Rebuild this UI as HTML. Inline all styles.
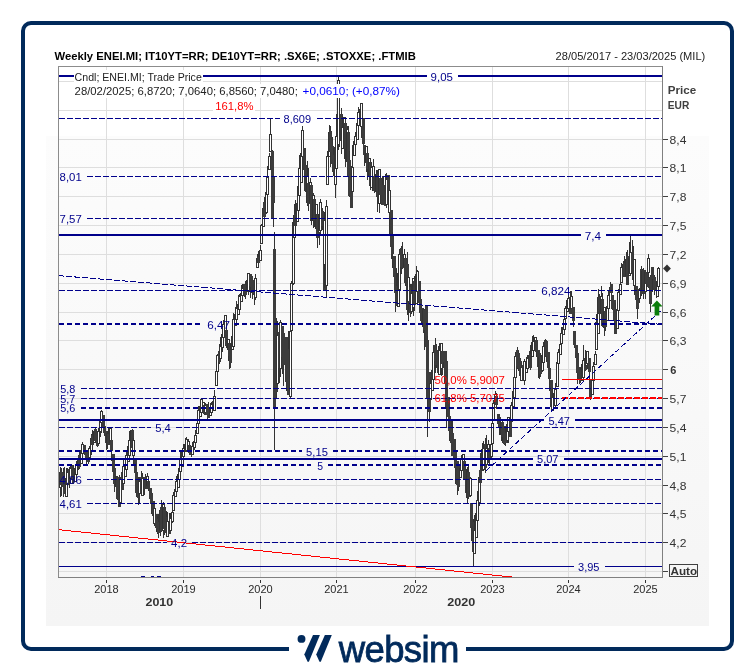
<!DOCTYPE html>
<html><head><meta charset="utf-8">
<style>
html,body{margin:0;padding:0;background:#fff;}
body{width:755px;height:672px;position:relative;overflow:hidden;font-family:"Liberation Sans",Arial,sans-serif;}
.frame{position:absolute;left:21px;top:21px;width:705px;height:622px;border:4px solid #012a5b;border-radius:10px;}
.panel{position:absolute;left:46px;top:136px;width:663px;height:490px;background:linear-gradient(#fcfcfc,#f5f5f5);}
svg{position:absolute;left:0;top:0;}
</style></head><body>
<div class="frame"></div>
<div class="panel"></div>
<svg width="755" height="672" viewBox="0 0 755 672" font-family="Liberation Sans, Arial, sans-serif">
<g shape-rendering="crispEdges">
<rect x="59" y="81" width="603" height="1" fill="#dedede"/>
<rect x="59" y="110" width="603" height="1" fill="#dedede"/>
<rect x="59" y="139" width="603" height="1" fill="#dedede"/>
<rect x="59" y="167" width="603" height="1" fill="#dedede"/>
<rect x="59" y="196" width="603" height="1" fill="#dedede"/>
<rect x="59" y="225" width="603" height="1" fill="#dedede"/>
<rect x="59" y="254" width="603" height="1" fill="#dedede"/>
<rect x="59" y="283" width="603" height="1" fill="#dedede"/>
<rect x="59" y="312" width="603" height="1" fill="#dedede"/>
<rect x="59" y="340" width="603" height="1" fill="#dedede"/>
<rect x="59" y="369" width="603" height="1" fill="#dedede"/>
<rect x="59" y="398" width="603" height="1" fill="#dedede"/>
<rect x="59" y="427" width="603" height="1" fill="#dedede"/>
<rect x="59" y="456" width="603" height="1" fill="#dedede"/>
<rect x="59" y="485" width="603" height="1" fill="#dedede"/>
<rect x="59" y="513" width="603" height="1" fill="#dedede"/>
<rect x="59" y="542" width="603" height="1" fill="#dedede"/>
<rect x="59" y="571" width="603" height="1" fill="#dedede"/>
<rect x="106" y="67" width="1" height="510" fill="#dedede"/>
<rect x="183" y="67" width="1" height="510" fill="#dedede"/>
<rect x="260" y="67" width="1" height="510" fill="#dedede"/>
<rect x="336" y="67" width="1" height="510" fill="#dedede"/>
<rect x="415" y="67" width="1" height="510" fill="#dedede"/>
<rect x="492" y="67" width="1" height="510" fill="#dedede"/>
<rect x="568" y="67" width="1" height="510" fill="#dedede"/>
<rect x="645" y="67" width="1" height="510" fill="#dedede"/>
</g>
<g shape-rendering="crispEdges">
<rect x="60" y="467.1" width="1" height="30.2" fill="#333"/>
<rect x="59.5" y="472.3" width="2" height="15.4" fill="#fff" stroke="#333" stroke-width="1"/>
<rect x="61" y="467.6" width="1" height="28.7" fill="#333"/>
<rect x="60" y="471.8" width="3" height="13.5" fill="#3c3c3c"/>
<rect x="63" y="467.7" width="1" height="29.6" fill="#333"/>
<rect x="62" y="473.0" width="3" height="14.0" fill="#3c3c3c"/>
<rect x="64" y="467.2" width="1" height="26.7" fill="#333"/>
<rect x="63" y="478.1" width="3" height="15.8" fill="#3c3c3c"/>
<rect x="66" y="467.6" width="1" height="28.5" fill="#333"/>
<rect x="65.5" y="478.7" width="2" height="17.4" fill="#fff" stroke="#333" stroke-width="1"/>
<rect x="67" y="467.8" width="1" height="22.8" fill="#333"/>
<rect x="66.5" y="472.7" width="2" height="11.6" fill="#fff" stroke="#333" stroke-width="1"/>
<rect x="69" y="466.9" width="1" height="20.7" fill="#333"/>
<rect x="68" y="468.9" width="3" height="14.0" fill="#3c3c3c"/>
<rect x="70" y="465.0" width="1" height="18.5" fill="#333"/>
<rect x="69.5" y="468.4" width="2" height="10.1" fill="#fff" stroke="#333" stroke-width="1"/>
<rect x="72" y="464.5" width="1" height="19.5" fill="#333"/>
<rect x="71" y="464.5" width="3" height="12.8" fill="#3c3c3c"/>
<rect x="73" y="465.5" width="1" height="18.5" fill="#333"/>
<rect x="72" y="468.8" width="3" height="12.9" fill="#3c3c3c"/>
<rect x="75" y="465.3" width="1" height="15.7" fill="#333"/>
<rect x="74.5" y="468.4" width="2" height="12.6" fill="#fff" stroke="#333" stroke-width="1"/>
<rect x="76" y="461.0" width="1" height="13.7" fill="#333"/>
<rect x="75.5" y="464.9" width="2" height="9.8" fill="#fff" stroke="#333" stroke-width="1"/>
<rect x="78" y="458.4" width="1" height="11.2" fill="#333"/>
<rect x="77.5" y="458.4" width="2" height="9.2" fill="#fff" stroke="#333" stroke-width="1"/>
<rect x="79" y="452.0" width="1" height="16.9" fill="#333"/>
<rect x="78" y="455.4" width="3" height="11.1" fill="#3c3c3c"/>
<rect x="81" y="446.4" width="1" height="17.3" fill="#333"/>
<rect x="80.5" y="450.2" width="2" height="13.5" fill="#fff" stroke="#333" stroke-width="1"/>
<rect x="82" y="442.3" width="1" height="10.8" fill="#333"/>
<rect x="81.5" y="444.3" width="2" height="8.7" fill="#fff" stroke="#333" stroke-width="1"/>
<rect x="84" y="445.0" width="1" height="10.0" fill="#333"/>
<rect x="83" y="445.4" width="3" height="6.8" fill="#3c3c3c"/>
<rect x="85" y="449.9" width="1" height="6.9" fill="#333"/>
<rect x="84" y="449.9" width="3" height="3.5" fill="#3c3c3c"/>
<rect x="86" y="451.4" width="1" height="13.5" fill="#333"/>
<rect x="85" y="451.4" width="3" height="7.9" fill="#3c3c3c"/>
<rect x="88" y="450.5" width="1" height="13.3" fill="#333"/>
<rect x="87" y="450.5" width="3" height="11.5" fill="#3c3c3c"/>
<rect x="89" y="445.7" width="1" height="12.6" fill="#333"/>
<rect x="88.5" y="448.7" width="2" height="8.9" fill="#fff" stroke="#333" stroke-width="1"/>
<rect x="91" y="433.9" width="1" height="21.4" fill="#333"/>
<rect x="90.5" y="438.7" width="2" height="11.4" fill="#fff" stroke="#333" stroke-width="1"/>
<rect x="92" y="430.4" width="1" height="18.0" fill="#333"/>
<rect x="91" y="435.1" width="3" height="9.8" fill="#3c3c3c"/>
<rect x="94" y="428.7" width="1" height="14.7" fill="#333"/>
<rect x="93.5" y="431.4" width="2" height="11.1" fill="#fff" stroke="#333" stroke-width="1"/>
<rect x="95" y="427.1" width="1" height="13.9" fill="#333"/>
<rect x="94" y="429.3" width="3" height="11.3" fill="#3c3c3c"/>
<rect x="97" y="431.0" width="1" height="16.0" fill="#333"/>
<rect x="96" y="434.3" width="3" height="11.7" fill="#3c3c3c"/>
<rect x="98" y="428.3" width="1" height="16.1" fill="#333"/>
<rect x="97.5" y="431.5" width="2" height="11.9" fill="#fff" stroke="#333" stroke-width="1"/>
<rect x="100" y="414.6" width="1" height="22.4" fill="#333"/>
<rect x="99.5" y="420.5" width="2" height="11.3" fill="#fff" stroke="#333" stroke-width="1"/>
<rect x="101" y="410.0" width="1" height="22.6" fill="#333"/>
<rect x="100.5" y="411.2" width="2" height="11.4" fill="#fff" stroke="#333" stroke-width="1"/>
<rect x="103" y="414.9" width="1" height="17.6" fill="#333"/>
<rect x="102" y="414.9" width="3" height="13.3" fill="#3c3c3c"/>
<rect x="104" y="426.2" width="1" height="9.9" fill="#333"/>
<rect x="103" y="426.2" width="3" height="7.2" fill="#3c3c3c"/>
<rect x="106" y="430.6" width="1" height="19.7" fill="#333"/>
<rect x="105" y="430.6" width="3" height="12.2" fill="#3c3c3c"/>
<rect x="107" y="431.1" width="1" height="17.4" fill="#333"/>
<rect x="106.5" y="433.8" width="2" height="9.7" fill="#fff" stroke="#333" stroke-width="1"/>
<rect x="108" y="428.3" width="1" height="16.2" fill="#333"/>
<rect x="107" y="434.2" width="3" height="10.3" fill="#3c3c3c"/>
<rect x="110" y="428.4" width="1" height="19.3" fill="#333"/>
<rect x="109.5" y="428.4" width="2" height="14.5" fill="#fff" stroke="#333" stroke-width="1"/>
<rect x="111" y="439.5" width="1" height="21.5" fill="#333"/>
<rect x="110" y="439.5" width="3" height="11.7" fill="#3c3c3c"/>
<rect x="113" y="454.4" width="1" height="19.6" fill="#333"/>
<rect x="112" y="454.4" width="3" height="17.2" fill="#3c3c3c"/>
<rect x="114" y="468.0" width="1" height="23.6" fill="#333"/>
<rect x="113" y="468.0" width="3" height="16.1" fill="#3c3c3c"/>
<rect x="116" y="476.1" width="1" height="22.2" fill="#333"/>
<rect x="115.5" y="476.6" width="2" height="10.2" fill="#fff" stroke="#333" stroke-width="1"/>
<rect x="117" y="477.0" width="1" height="22.9" fill="#333"/>
<rect x="116" y="477.0" width="3" height="22.4" fill="#3c3c3c"/>
<rect x="119" y="475.1" width="1" height="32.0" fill="#333"/>
<rect x="118" y="488.6" width="3" height="18.5" fill="#3c3c3c"/>
<rect x="120" y="476.9" width="1" height="25.1" fill="#333"/>
<rect x="119.5" y="479.7" width="2" height="22.3" fill="#fff" stroke="#333" stroke-width="1"/>
<rect x="122" y="466.9" width="1" height="23.3" fill="#333"/>
<rect x="121" y="471.9" width="3" height="18.4" fill="#3c3c3c"/>
<rect x="123" y="460.1" width="1" height="23.4" fill="#333"/>
<rect x="122.5" y="466.8" width="2" height="16.7" fill="#fff" stroke="#333" stroke-width="1"/>
<rect x="125" y="458.9" width="1" height="17.2" fill="#333"/>
<rect x="124.5" y="464.0" width="2" height="12.1" fill="#fff" stroke="#333" stroke-width="1"/>
<rect x="126" y="452.1" width="1" height="17.5" fill="#333"/>
<rect x="125.5" y="455.4" width="2" height="14.2" fill="#fff" stroke="#333" stroke-width="1"/>
<rect x="128" y="445.4" width="1" height="16.4" fill="#333"/>
<rect x="127.5" y="446.8" width="2" height="15.0" fill="#fff" stroke="#333" stroke-width="1"/>
<rect x="129" y="430.9" width="1" height="24.9" fill="#333"/>
<rect x="128.5" y="440.8" width="2" height="14.2" fill="#fff" stroke="#333" stroke-width="1"/>
<rect x="131" y="430.2" width="1" height="17.1" fill="#333"/>
<rect x="130.5" y="430.2" width="2" height="16.7" fill="#fff" stroke="#333" stroke-width="1"/>
<rect x="132" y="429.0" width="1" height="24.0" fill="#333"/>
<rect x="131" y="430.4" width="3" height="17.7" fill="#3c3c3c"/>
<rect x="133" y="438.0" width="1" height="27.8" fill="#333"/>
<rect x="132.5" y="440.2" width="2" height="14.8" fill="#fff" stroke="#333" stroke-width="1"/>
<rect x="135" y="460.0" width="1" height="27.0" fill="#333"/>
<rect x="134" y="460.0" width="3" height="13.4" fill="#3c3c3c"/>
<rect x="136" y="472.2" width="1" height="24.3" fill="#333"/>
<rect x="135" y="472.2" width="3" height="20.7" fill="#3c3c3c"/>
<rect x="138" y="477.0" width="1" height="27.9" fill="#333"/>
<rect x="137" y="480.7" width="3" height="17.6" fill="#3c3c3c"/>
<rect x="139" y="476.8" width="1" height="27.3" fill="#333"/>
<rect x="138.5" y="481.0" width="2" height="12.8" fill="#fff" stroke="#333" stroke-width="1"/>
<rect x="141" y="470.7" width="1" height="25.4" fill="#333"/>
<rect x="140" y="477.3" width="3" height="16.4" fill="#3c3c3c"/>
<rect x="142" y="473.2" width="1" height="23.1" fill="#333"/>
<rect x="141.5" y="478.3" width="2" height="16.7" fill="#fff" stroke="#333" stroke-width="1"/>
<rect x="144" y="476.7" width="1" height="18.1" fill="#333"/>
<rect x="143.5" y="477.8" width="2" height="11.0" fill="#fff" stroke="#333" stroke-width="1"/>
<rect x="145" y="473.9" width="1" height="15.5" fill="#333"/>
<rect x="144" y="476.8" width="3" height="12.6" fill="#3c3c3c"/>
<rect x="147" y="473.2" width="1" height="11.9" fill="#333"/>
<rect x="146.5" y="476.8" width="2" height="8.3" fill="#fff" stroke="#333" stroke-width="1"/>
<rect x="148" y="480.5" width="1" height="10.4" fill="#333"/>
<rect x="147" y="480.5" width="3" height="8.6" fill="#3c3c3c"/>
<rect x="150" y="487.6" width="1" height="14.5" fill="#333"/>
<rect x="149" y="487.6" width="3" height="11.3" fill="#3c3c3c"/>
<rect x="151" y="491.6" width="1" height="21.9" fill="#333"/>
<rect x="150" y="493.3" width="3" height="10.4" fill="#3c3c3c"/>
<rect x="153" y="501.2" width="1" height="17.7" fill="#333"/>
<rect x="152" y="501.2" width="3" height="14.8" fill="#3c3c3c"/>
<rect x="154" y="508.7" width="1" height="17.5" fill="#333"/>
<rect x="153.5" y="508.7" width="2" height="14.4" fill="#fff" stroke="#333" stroke-width="1"/>
<rect x="156" y="513.8" width="1" height="18.0" fill="#333"/>
<rect x="155" y="513.8" width="3" height="14.3" fill="#3c3c3c"/>
<rect x="157" y="516.0" width="1" height="18.0" fill="#333"/>
<rect x="156" y="518.8" width="3" height="10.2" fill="#3c3c3c"/>
<rect x="158" y="513.8" width="1" height="24.5" fill="#333"/>
<rect x="157" y="522.1" width="3" height="11.2" fill="#3c3c3c"/>
<rect x="160" y="509.6" width="1" height="26.3" fill="#333"/>
<rect x="159.5" y="510.7" width="2" height="19.5" fill="#fff" stroke="#333" stroke-width="1"/>
<rect x="161" y="500.3" width="1" height="32.1" fill="#333"/>
<rect x="160" y="507.4" width="3" height="23.8" fill="#3c3c3c"/>
<rect x="163" y="501.8" width="1" height="35.7" fill="#333"/>
<rect x="162.5" y="504.7" width="2" height="25.8" fill="#fff" stroke="#333" stroke-width="1"/>
<rect x="164" y="506.6" width="1" height="28.7" fill="#333"/>
<rect x="163" y="506.6" width="3" height="22.1" fill="#3c3c3c"/>
<rect x="166" y="510.5" width="1" height="24.6" fill="#333"/>
<rect x="165" y="516.7" width="3" height="16.2" fill="#3c3c3c"/>
<rect x="167" y="512.0" width="1" height="24.7" fill="#333"/>
<rect x="166.5" y="521.7" width="2" height="15.0" fill="#fff" stroke="#333" stroke-width="1"/>
<rect x="169" y="513.1" width="1" height="21.2" fill="#333"/>
<rect x="168" y="523.2" width="3" height="11.1" fill="#3c3c3c"/>
<rect x="170" y="513.3" width="1" height="18.1" fill="#333"/>
<rect x="169.5" y="518.4" width="2" height="12.3" fill="#fff" stroke="#333" stroke-width="1"/>
<rect x="172" y="505.7" width="1" height="17.7" fill="#333"/>
<rect x="171.5" y="512.5" width="2" height="9.4" fill="#fff" stroke="#333" stroke-width="1"/>
<rect x="173" y="492.2" width="1" height="18.5" fill="#333"/>
<rect x="172.5" y="495.2" width="2" height="15.5" fill="#fff" stroke="#333" stroke-width="1"/>
<rect x="175" y="483.4" width="1" height="13.4" fill="#333"/>
<rect x="174.5" y="489.4" width="2" height="7.4" fill="#fff" stroke="#333" stroke-width="1"/>
<rect x="176" y="475.6" width="1" height="15.8" fill="#333"/>
<rect x="175.5" y="481.7" width="2" height="9.7" fill="#fff" stroke="#333" stroke-width="1"/>
<rect x="178" y="468.0" width="1" height="19.0" fill="#333"/>
<rect x="177.5" y="474.8" width="2" height="12.2" fill="#fff" stroke="#333" stroke-width="1"/>
<rect x="179" y="461.6" width="1" height="17.4" fill="#333"/>
<rect x="178.5" y="469.7" width="2" height="9.3" fill="#fff" stroke="#333" stroke-width="1"/>
<rect x="180" y="451.1" width="1" height="20.5" fill="#333"/>
<rect x="179.5" y="459.6" width="2" height="12.0" fill="#fff" stroke="#333" stroke-width="1"/>
<rect x="182" y="449.5" width="1" height="17.1" fill="#333"/>
<rect x="181.5" y="452.1" width="2" height="14.5" fill="#fff" stroke="#333" stroke-width="1"/>
<rect x="183" y="444.1" width="1" height="17.2" fill="#333"/>
<rect x="182.5" y="448.6" width="2" height="8.0" fill="#fff" stroke="#333" stroke-width="1"/>
<rect x="185" y="437.5" width="1" height="14.2" fill="#333"/>
<rect x="184.5" y="444.0" width="2" height="7.7" fill="#fff" stroke="#333" stroke-width="1"/>
<rect x="186" y="437.1" width="1" height="13.2" fill="#333"/>
<rect x="185.5" y="439.8" width="2" height="10.6" fill="#fff" stroke="#333" stroke-width="1"/>
<rect x="188" y="439.3" width="1" height="12.8" fill="#333"/>
<rect x="187.5" y="441.4" width="2" height="7.8" fill="#fff" stroke="#333" stroke-width="1"/>
<rect x="189" y="444.6" width="1" height="10.7" fill="#333"/>
<rect x="188" y="444.6" width="3" height="8.4" fill="#3c3c3c"/>
<rect x="191" y="447.5" width="1" height="9.2" fill="#333"/>
<rect x="190" y="448.0" width="3" height="7.3" fill="#3c3c3c"/>
<rect x="192" y="441.8" width="1" height="12.1" fill="#333"/>
<rect x="191.5" y="446.5" width="2" height="7.5" fill="#fff" stroke="#333" stroke-width="1"/>
<rect x="194" y="435.5" width="1" height="14.0" fill="#333"/>
<rect x="193.5" y="441.5" width="2" height="6.3" fill="#fff" stroke="#333" stroke-width="1"/>
<rect x="195" y="429.8" width="1" height="14.0" fill="#333"/>
<rect x="194.5" y="435.7" width="2" height="6.9" fill="#fff" stroke="#333" stroke-width="1"/>
<rect x="197" y="419.5" width="1" height="14.0" fill="#333"/>
<rect x="196.5" y="423.7" width="2" height="9.8" fill="#fff" stroke="#333" stroke-width="1"/>
<rect x="198" y="406.4" width="1" height="17.3" fill="#333"/>
<rect x="197.5" y="410.6" width="2" height="13.1" fill="#fff" stroke="#333" stroke-width="1"/>
<rect x="200" y="399.8" width="1" height="16.4" fill="#333"/>
<rect x="199.5" y="406.8" width="2" height="9.5" fill="#fff" stroke="#333" stroke-width="1"/>
<rect x="201" y="398.5" width="1" height="13.6" fill="#333"/>
<rect x="200.5" y="399.9" width="2" height="12.2" fill="#fff" stroke="#333" stroke-width="1"/>
<rect x="203" y="401.5" width="1" height="11.0" fill="#333"/>
<rect x="202.5" y="402.7" width="2" height="9.5" fill="#fff" stroke="#333" stroke-width="1"/>
<rect x="204" y="402.1" width="1" height="12.9" fill="#333"/>
<rect x="203" y="404.9" width="3" height="9.3" fill="#3c3c3c"/>
<rect x="205" y="403.0" width="1" height="11.7" fill="#333"/>
<rect x="204.5" y="405.3" width="2" height="7.6" fill="#fff" stroke="#333" stroke-width="1"/>
<rect x="207" y="403.9" width="1" height="16.0" fill="#333"/>
<rect x="206" y="403.9" width="3" height="11.3" fill="#3c3c3c"/>
<rect x="208" y="402.3" width="1" height="15.6" fill="#333"/>
<rect x="207" y="406.8" width="3" height="11.1" fill="#3c3c3c"/>
<rect x="210" y="403.1" width="1" height="13.0" fill="#333"/>
<rect x="209.5" y="409.0" width="2" height="6.5" fill="#fff" stroke="#333" stroke-width="1"/>
<rect x="211" y="402.2" width="1" height="10.7" fill="#333"/>
<rect x="210.5" y="404.2" width="2" height="8.7" fill="#fff" stroke="#333" stroke-width="1"/>
<rect x="213" y="398.5" width="1" height="11.7" fill="#333"/>
<rect x="212.5" y="401.7" width="2" height="8.1" fill="#fff" stroke="#333" stroke-width="1"/>
<rect x="214" y="390.3" width="1" height="20.0" fill="#333"/>
<rect x="213.5" y="396.8" width="2" height="13.5" fill="#fff" stroke="#333" stroke-width="1"/>
<rect x="216" y="366.6" width="1" height="18.5" fill="#333"/>
<rect x="215.5" y="371.9" width="2" height="13.1" fill="#fff" stroke="#333" stroke-width="1"/>
<rect x="217" y="353.5" width="1" height="18.0" fill="#333"/>
<rect x="216.5" y="355.9" width="2" height="15.6" fill="#fff" stroke="#333" stroke-width="1"/>
<rect x="219" y="344.2" width="1" height="20.1" fill="#333"/>
<rect x="218" y="350.9" width="3" height="11.1" fill="#3c3c3c"/>
<rect x="220" y="337.4" width="1" height="20.7" fill="#333"/>
<rect x="219.5" y="346.5" width="2" height="11.6" fill="#fff" stroke="#333" stroke-width="1"/>
<rect x="222" y="334.2" width="1" height="17.9" fill="#333"/>
<rect x="221.5" y="334.2" width="2" height="13.5" fill="#fff" stroke="#333" stroke-width="1"/>
<rect x="223" y="320.2" width="1" height="25.4" fill="#333"/>
<rect x="222.5" y="324.0" width="2" height="13.9" fill="#fff" stroke="#333" stroke-width="1"/>
<rect x="225" y="315.9" width="1" height="25.4" fill="#333"/>
<rect x="224.5" y="315.9" width="2" height="18.1" fill="#fff" stroke="#333" stroke-width="1"/>
<rect x="226" y="330.2" width="1" height="18.1" fill="#333"/>
<rect x="225" y="330.2" width="3" height="15.8" fill="#3c3c3c"/>
<rect x="228" y="339.8" width="1" height="21.5" fill="#333"/>
<rect x="227.5" y="339.8" width="2" height="9.7" fill="#fff" stroke="#333" stroke-width="1"/>
<rect x="229" y="342.5" width="1" height="26.4" fill="#333"/>
<rect x="228" y="342.5" width="3" height="13.2" fill="#3c3c3c"/>
<rect x="230" y="344.1" width="1" height="23.4" fill="#333"/>
<rect x="229" y="349.9" width="3" height="12.7" fill="#3c3c3c"/>
<rect x="232" y="331.6" width="1" height="17.5" fill="#333"/>
<rect x="231.5" y="336.1" width="2" height="13.0" fill="#fff" stroke="#333" stroke-width="1"/>
<rect x="233" y="312.6" width="1" height="33.6" fill="#333"/>
<rect x="232.5" y="319.3" width="2" height="26.9" fill="#fff" stroke="#333" stroke-width="1"/>
<rect x="235" y="306.5" width="1" height="18.8" fill="#333"/>
<rect x="234.5" y="314.9" width="2" height="10.4" fill="#fff" stroke="#333" stroke-width="1"/>
<rect x="236" y="301.0" width="1" height="18.0" fill="#333"/>
<rect x="235.5" y="308.6" width="2" height="10.4" fill="#fff" stroke="#333" stroke-width="1"/>
<rect x="238" y="295.0" width="1" height="19.6" fill="#333"/>
<rect x="237.5" y="304.5" width="2" height="10.1" fill="#fff" stroke="#333" stroke-width="1"/>
<rect x="239" y="294.3" width="1" height="15.3" fill="#333"/>
<rect x="238.5" y="296.9" width="2" height="12.7" fill="#fff" stroke="#333" stroke-width="1"/>
<rect x="241" y="285.0" width="1" height="16.5" fill="#333"/>
<rect x="240.5" y="293.0" width="2" height="8.5" fill="#fff" stroke="#333" stroke-width="1"/>
<rect x="242" y="283.6" width="1" height="14.1" fill="#333"/>
<rect x="241.5" y="288.1" width="2" height="7.3" fill="#fff" stroke="#333" stroke-width="1"/>
<rect x="244" y="284.3" width="1" height="12.6" fill="#333"/>
<rect x="243" y="284.3" width="3" height="7.8" fill="#3c3c3c"/>
<rect x="245" y="280.6" width="1" height="17.9" fill="#333"/>
<rect x="244" y="285.0" width="3" height="10.0" fill="#3c3c3c"/>
<rect x="247" y="276.2" width="1" height="15.5" fill="#333"/>
<rect x="246.5" y="280.5" width="2" height="11.2" fill="#fff" stroke="#333" stroke-width="1"/>
<rect x="248" y="273.9" width="1" height="21.3" fill="#333"/>
<rect x="247.5" y="273.9" width="2" height="16.3" fill="#fff" stroke="#333" stroke-width="1"/>
<rect x="250" y="273.8" width="1" height="23.7" fill="#333"/>
<rect x="249" y="274.4" width="3" height="11.4" fill="#3c3c3c"/>
<rect x="251" y="276.0" width="1" height="17.0" fill="#333"/>
<rect x="250" y="276.0" width="3" height="10.8" fill="#3c3c3c"/>
<rect x="252" y="279.7" width="1" height="19.3" fill="#333"/>
<rect x="251" y="279.7" width="3" height="11.5" fill="#3c3c3c"/>
<rect x="254" y="280.1" width="1" height="25.0" fill="#333"/>
<rect x="253" y="282.9" width="3" height="12.1" fill="#3c3c3c"/>
<rect x="255" y="273.5" width="1" height="26.3" fill="#333"/>
<rect x="254.5" y="278.7" width="2" height="18.4" fill="#fff" stroke="#333" stroke-width="1"/>
<rect x="257" y="254.2" width="1" height="13.0" fill="#333"/>
<rect x="256.5" y="258.3" width="2" height="9.0" fill="#fff" stroke="#333" stroke-width="1"/>
<rect x="258" y="250.6" width="1" height="12.2" fill="#333"/>
<rect x="257" y="256.6" width="3" height="6.2" fill="#3c3c3c"/>
<rect x="260" y="244.7" width="1" height="15.7" fill="#333"/>
<rect x="259.5" y="250.1" width="2" height="10.3" fill="#fff" stroke="#333" stroke-width="1"/>
<rect x="261" y="223.8" width="1" height="19.8" fill="#333"/>
<rect x="260.5" y="225.4" width="2" height="18.2" fill="#fff" stroke="#333" stroke-width="1"/>
<rect x="263" y="203.2" width="1" height="23.5" fill="#333"/>
<rect x="262.5" y="208.1" width="2" height="18.6" fill="#fff" stroke="#333" stroke-width="1"/>
<rect x="264" y="197.4" width="1" height="20.9" fill="#333"/>
<rect x="263" y="201.5" width="3" height="15.6" fill="#3c3c3c"/>
<rect x="266" y="190.0" width="1" height="23.5" fill="#333"/>
<rect x="265.5" y="192.6" width="2" height="19.5" fill="#fff" stroke="#333" stroke-width="1"/>
<rect x="267" y="166.4" width="1" height="28.1" fill="#333"/>
<rect x="266.5" y="177.9" width="2" height="16.3" fill="#fff" stroke="#333" stroke-width="1"/>
<rect x="269" y="153.2" width="1" height="16.5" fill="#333"/>
<rect x="268.5" y="156.6" width="2" height="13.1" fill="#fff" stroke="#333" stroke-width="1"/>
<rect x="270" y="118.0" width="1" height="33.0" fill="#333"/>
<rect x="269.5" y="134.0" width="2" height="17.0" fill="#fff" stroke="#333" stroke-width="1"/>
<rect x="272" y="150.0" width="1" height="69.0" fill="#333"/>
<rect x="271" y="151.0" width="3" height="68.0" fill="#3c3c3c"/>
<rect x="273" y="176.2" width="1" height="50.5" fill="#333"/>
<rect x="272" y="176.2" width="3" height="27.1" fill="#3c3c3c"/>
<rect x="274" y="232.0" width="1" height="218.0" fill="#333"/>
<rect x="273" y="248.6" width="3" height="157.9" fill="#3c3c3c"/>
<rect x="276" y="318.0" width="1" height="80.0" fill="#333"/>
<rect x="275" y="325.0" width="3" height="67.0" fill="#3c3c3c"/>
<rect x="277" y="321.1" width="1" height="64.5" fill="#333"/>
<rect x="276.5" y="335.6" width="2" height="47.4" fill="#fff" stroke="#333" stroke-width="1"/>
<rect x="279" y="322.2" width="1" height="60.3" fill="#333"/>
<rect x="278" y="332.4" width="3" height="35.3" fill="#3c3c3c"/>
<rect x="280" y="320.1" width="1" height="57.2" fill="#333"/>
<rect x="279.5" y="322.6" width="2" height="45.5" fill="#fff" stroke="#333" stroke-width="1"/>
<rect x="282" y="325.8" width="1" height="48.1" fill="#333"/>
<rect x="281" y="325.8" width="3" height="31.4" fill="#3c3c3c"/>
<rect x="283" y="333.3" width="1" height="52.3" fill="#333"/>
<rect x="282" y="333.3" width="3" height="31.6" fill="#3c3c3c"/>
<rect x="285" y="339.2" width="1" height="36.5" fill="#333"/>
<rect x="284" y="339.2" width="3" height="20.9" fill="#3c3c3c"/>
<rect x="286" y="337.2" width="1" height="54.1" fill="#333"/>
<rect x="285" y="337.2" width="3" height="45.0" fill="#3c3c3c"/>
<rect x="288" y="330.9" width="1" height="64.0" fill="#333"/>
<rect x="287" y="349.4" width="3" height="45.5" fill="#3c3c3c"/>
<rect x="290" y="329.0" width="1" height="69.0" fill="#333"/>
<rect x="289.5" y="331.0" width="2" height="65.0" fill="#fff" stroke="#333" stroke-width="1"/>
<rect x="291" y="281.0" width="1" height="52.0" fill="#333"/>
<rect x="290.5" y="283.0" width="2" height="47.0" fill="#fff" stroke="#333" stroke-width="1"/>
<rect x="293" y="215.0" width="1" height="70.0" fill="#333"/>
<rect x="292.5" y="222.0" width="2" height="61.0" fill="#fff" stroke="#333" stroke-width="1"/>
<rect x="294" y="204.1" width="1" height="33.0" fill="#333"/>
<rect x="293.5" y="217.2" width="2" height="19.9" fill="#fff" stroke="#333" stroke-width="1"/>
<rect x="295" y="200.0" width="1" height="26.5" fill="#333"/>
<rect x="294" y="214.1" width="3" height="12.3" fill="#3c3c3c"/>
<rect x="297" y="200.0" width="1" height="21.9" fill="#333"/>
<rect x="296.5" y="203.6" width="2" height="17.8" fill="#fff" stroke="#333" stroke-width="1"/>
<rect x="298" y="179.5" width="1" height="31.2" fill="#333"/>
<rect x="297.5" y="186.8" width="2" height="23.9" fill="#fff" stroke="#333" stroke-width="1"/>
<rect x="299" y="154.8" width="1" height="40.7" fill="#333"/>
<rect x="298.5" y="168.4" width="2" height="27.1" fill="#fff" stroke="#333" stroke-width="1"/>
<rect x="301" y="147.2" width="1" height="35.1" fill="#333"/>
<rect x="300.5" y="153.6" width="2" height="28.7" fill="#fff" stroke="#333" stroke-width="1"/>
<rect x="302" y="125.6" width="1" height="39.4" fill="#333"/>
<rect x="301.5" y="130.1" width="2" height="25.9" fill="#fff" stroke="#333" stroke-width="1"/>
<rect x="304" y="148.4" width="1" height="40.6" fill="#333"/>
<rect x="303" y="148.4" width="3" height="21.8" fill="#3c3c3c"/>
<rect x="305" y="161.9" width="1" height="30.3" fill="#333"/>
<rect x="304" y="165.2" width="3" height="25.9" fill="#3c3c3c"/>
<rect x="307" y="161.4" width="1" height="45.0" fill="#333"/>
<rect x="306.5" y="176.6" width="2" height="25.4" fill="#fff" stroke="#333" stroke-width="1"/>
<rect x="308" y="168.0" width="1" height="42.5" fill="#333"/>
<rect x="307" y="183.0" width="3" height="21.3" fill="#3c3c3c"/>
<rect x="310" y="177.6" width="1" height="43.2" fill="#333"/>
<rect x="309.5" y="182.5" width="2" height="20.0" fill="#fff" stroke="#333" stroke-width="1"/>
<rect x="311" y="184.4" width="1" height="40.7" fill="#333"/>
<rect x="310" y="185.1" width="3" height="34.0" fill="#3c3c3c"/>
<rect x="313" y="192.5" width="1" height="35.6" fill="#333"/>
<rect x="312.5" y="195.7" width="2" height="24.4" fill="#fff" stroke="#333" stroke-width="1"/>
<rect x="314" y="198.8" width="1" height="27.7" fill="#333"/>
<rect x="313" y="198.8" width="3" height="21.3" fill="#3c3c3c"/>
<rect x="316" y="204.6" width="1" height="32.0" fill="#333"/>
<rect x="315.5" y="204.6" width="2" height="23.8" fill="#fff" stroke="#333" stroke-width="1"/>
<rect x="317" y="213.5" width="1" height="34.3" fill="#333"/>
<rect x="316" y="213.5" width="3" height="24.3" fill="#3c3c3c"/>
<rect x="319" y="212.3" width="1" height="32.9" fill="#333"/>
<rect x="318.5" y="214.0" width="2" height="18.7" fill="#fff" stroke="#333" stroke-width="1"/>
<rect x="320" y="198.6" width="1" height="35.2" fill="#333"/>
<rect x="319.5" y="202.4" width="2" height="28.0" fill="#fff" stroke="#333" stroke-width="1"/>
<rect x="322" y="207.5" width="1" height="22.5" fill="#333"/>
<rect x="321" y="210.8" width="3" height="15.6" fill="#3c3c3c"/>
<rect x="324" y="212.0" width="1" height="79.0" fill="#333"/>
<rect x="323" y="219.0" width="3" height="72.0" fill="#3c3c3c"/>
<rect x="324" y="219.6" width="1" height="68.1" fill="#333"/>
<rect x="323.5" y="220.5" width="2" height="43.5" fill="#fff" stroke="#333" stroke-width="1"/>
<rect x="326" y="200.0" width="1" height="97.0" fill="#333"/>
<rect x="325.5" y="206.0" width="2" height="79.6" fill="#fff" stroke="#333" stroke-width="1"/>
<rect x="327" y="150.7" width="1" height="33.6" fill="#333"/>
<rect x="326.5" y="156.4" width="2" height="28.0" fill="#fff" stroke="#333" stroke-width="1"/>
<rect x="329" y="124.9" width="1" height="32.2" fill="#333"/>
<rect x="328.5" y="132.4" width="2" height="24.0" fill="#fff" stroke="#333" stroke-width="1"/>
<rect x="330" y="126.4" width="1" height="40.1" fill="#333"/>
<rect x="329" y="131.2" width="3" height="20.9" fill="#3c3c3c"/>
<rect x="332" y="137.0" width="1" height="34.6" fill="#333"/>
<rect x="331" y="146.1" width="3" height="17.8" fill="#3c3c3c"/>
<rect x="333" y="148.4" width="1" height="27.1" fill="#333"/>
<rect x="332" y="154.7" width="3" height="17.4" fill="#3c3c3c"/>
<rect x="335" y="141.4" width="1" height="56.9" fill="#333"/>
<rect x="334.5" y="147.7" width="2" height="37.2" fill="#fff" stroke="#333" stroke-width="1"/>
<rect x="336" y="113.8" width="1" height="55.0" fill="#333"/>
<rect x="335.5" y="136.2" width="2" height="32.6" fill="#fff" stroke="#333" stroke-width="1"/>
<rect x="338" y="88.2" width="1" height="57.9" fill="#333"/>
<rect x="337.5" y="113.8" width="2" height="32.4" fill="#fff" stroke="#333" stroke-width="1"/>
<rect x="338" y="77.0" width="1" height="73.0" fill="#333"/>
<rect x="337.5" y="80.0" width="2" height="64.0" fill="#fff" stroke="#333" stroke-width="1"/>
<rect x="341" y="107.5" width="1" height="46.3" fill="#333"/>
<rect x="340" y="114.1" width="3" height="27.3" fill="#3c3c3c"/>
<rect x="342" y="115.7" width="1" height="33.0" fill="#333"/>
<rect x="341.5" y="127.2" width="2" height="21.5" fill="#fff" stroke="#333" stroke-width="1"/>
<rect x="344" y="117.9" width="1" height="41.1" fill="#333"/>
<rect x="343.5" y="117.9" width="2" height="26.7" fill="#fff" stroke="#333" stroke-width="1"/>
<rect x="345" y="122.1" width="1" height="45.1" fill="#333"/>
<rect x="344" y="122.9" width="3" height="26.1" fill="#3c3c3c"/>
<rect x="347" y="126.3" width="1" height="48.5" fill="#333"/>
<rect x="346.5" y="129.7" width="2" height="31.3" fill="#fff" stroke="#333" stroke-width="1"/>
<rect x="348" y="126.0" width="1" height="56.9" fill="#333"/>
<rect x="347" y="132.3" width="3" height="44.9" fill="#3c3c3c"/>
<rect x="349" y="151.2" width="1" height="45.4" fill="#333"/>
<rect x="348" y="160.2" width="3" height="35.9" fill="#3c3c3c"/>
<rect x="351" y="166.3" width="1" height="41.1" fill="#333"/>
<rect x="350" y="180.0" width="3" height="27.5" fill="#3c3c3c"/>
<rect x="352" y="145.2" width="1" height="46.1" fill="#333"/>
<rect x="351.5" y="167.0" width="2" height="24.3" fill="#fff" stroke="#333" stroke-width="1"/>
<rect x="354" y="135.8" width="1" height="19.7" fill="#333"/>
<rect x="353.5" y="141.0" width="2" height="14.5" fill="#fff" stroke="#333" stroke-width="1"/>
<rect x="355" y="132.3" width="1" height="14.5" fill="#333"/>
<rect x="354.5" y="136.0" width="2" height="8.7" fill="#fff" stroke="#333" stroke-width="1"/>
<rect x="357" y="121.2" width="1" height="18.5" fill="#333"/>
<rect x="356.5" y="123.9" width="2" height="15.7" fill="#fff" stroke="#333" stroke-width="1"/>
<rect x="358" y="106.8" width="1" height="18.6" fill="#333"/>
<rect x="357.5" y="112.7" width="2" height="12.8" fill="#fff" stroke="#333" stroke-width="1"/>
<rect x="360" y="105.1" width="1" height="17.4" fill="#333"/>
<rect x="359.5" y="109.8" width="2" height="11.5" fill="#fff" stroke="#333" stroke-width="1"/>
<rect x="361" y="103.6" width="1" height="34.7" fill="#333"/>
<rect x="360.5" y="103.6" width="2" height="23.1" fill="#fff" stroke="#333" stroke-width="1"/>
<rect x="363" y="117.9" width="1" height="36.6" fill="#333"/>
<rect x="362" y="117.9" width="3" height="26.4" fill="#3c3c3c"/>
<rect x="364" y="145.1" width="1" height="20.5" fill="#333"/>
<rect x="363" y="145.1" width="3" height="10.0" fill="#3c3c3c"/>
<rect x="366" y="146.6" width="1" height="25.7" fill="#333"/>
<rect x="365.5" y="146.6" width="2" height="15.5" fill="#fff" stroke="#333" stroke-width="1"/>
<rect x="367" y="153.0" width="1" height="27.0" fill="#333"/>
<rect x="366" y="153.0" width="3" height="16.3" fill="#3c3c3c"/>
<rect x="369" y="158.8" width="1" height="26.8" fill="#333"/>
<rect x="368.5" y="158.8" width="2" height="17.3" fill="#fff" stroke="#333" stroke-width="1"/>
<rect x="370" y="161.7" width="1" height="28.2" fill="#333"/>
<rect x="369" y="161.7" width="3" height="23.2" fill="#3c3c3c"/>
<rect x="371" y="161.5" width="1" height="25.5" fill="#333"/>
<rect x="370.5" y="167.6" width="2" height="19.4" fill="#fff" stroke="#333" stroke-width="1"/>
<rect x="373" y="159.3" width="1" height="31.0" fill="#333"/>
<rect x="372.5" y="166.2" width="2" height="24.1" fill="#fff" stroke="#333" stroke-width="1"/>
<rect x="374" y="167.6" width="1" height="25.7" fill="#333"/>
<rect x="373" y="176.4" width="3" height="14.2" fill="#3c3c3c"/>
<rect x="376" y="169.7" width="1" height="21.5" fill="#333"/>
<rect x="375.5" y="174.6" width="2" height="16.6" fill="#fff" stroke="#333" stroke-width="1"/>
<rect x="377" y="170.0" width="1" height="41.5" fill="#333"/>
<rect x="376" y="174.1" width="3" height="23.3" fill="#3c3c3c"/>
<rect x="379" y="169.2" width="1" height="43.9" fill="#333"/>
<rect x="378.5" y="169.2" width="2" height="34.1" fill="#fff" stroke="#333" stroke-width="1"/>
<rect x="380" y="169.4" width="1" height="30.7" fill="#333"/>
<rect x="379" y="178.4" width="3" height="16.2" fill="#3c3c3c"/>
<rect x="382" y="176.0" width="1" height="28.7" fill="#333"/>
<rect x="381" y="186.2" width="3" height="18.5" fill="#3c3c3c"/>
<rect x="383" y="175.8" width="1" height="28.6" fill="#333"/>
<rect x="382" y="185.2" width="3" height="19.2" fill="#3c3c3c"/>
<rect x="385" y="174.3" width="1" height="31.5" fill="#333"/>
<rect x="384" y="185.2" width="3" height="20.5" fill="#3c3c3c"/>
<rect x="386" y="173.2" width="1" height="34.3" fill="#333"/>
<rect x="385.5" y="179.2" width="2" height="25.7" fill="#fff" stroke="#333" stroke-width="1"/>
<rect x="388" y="174.7" width="1" height="35.3" fill="#333"/>
<rect x="387" y="175.0" width="3" height="29.9" fill="#3c3c3c"/>
<rect x="389" y="190.2" width="1" height="43.4" fill="#333"/>
<rect x="388.5" y="190.2" width="2" height="22.0" fill="#fff" stroke="#333" stroke-width="1"/>
<rect x="391" y="209.5" width="1" height="49.1" fill="#333"/>
<rect x="390" y="209.5" width="3" height="37.5" fill="#3c3c3c"/>
<rect x="392" y="231.9" width="1" height="36.3" fill="#333"/>
<rect x="391" y="234.5" width="3" height="19.6" fill="#3c3c3c"/>
<rect x="394" y="255.7" width="1" height="37.1" fill="#333"/>
<rect x="393" y="255.7" width="3" height="21.3" fill="#3c3c3c"/>
<rect x="395" y="267.7" width="1" height="44.7" fill="#333"/>
<rect x="394" y="267.7" width="3" height="25.3" fill="#3c3c3c"/>
<rect x="396" y="268.9" width="1" height="36.6" fill="#333"/>
<rect x="395" y="285.9" width="3" height="19.6" fill="#3c3c3c"/>
<rect x="398" y="265.9" width="1" height="41.1" fill="#333"/>
<rect x="397.5" y="273.2" width="2" height="33.7" fill="#fff" stroke="#333" stroke-width="1"/>
<rect x="399" y="248.6" width="1" height="42.2" fill="#333"/>
<rect x="398.5" y="254.3" width="2" height="35.0" fill="#fff" stroke="#333" stroke-width="1"/>
<rect x="401" y="245.5" width="1" height="28.0" fill="#333"/>
<rect x="400" y="247.5" width="3" height="19.9" fill="#3c3c3c"/>
<rect x="402" y="241.8" width="1" height="27.0" fill="#333"/>
<rect x="401" y="255.8" width="3" height="12.6" fill="#3c3c3c"/>
<rect x="404" y="249.4" width="1" height="26.9" fill="#333"/>
<rect x="403.5" y="254.1" width="2" height="12.7" fill="#fff" stroke="#333" stroke-width="1"/>
<rect x="405" y="256.1" width="1" height="29.5" fill="#333"/>
<rect x="404" y="257.5" width="3" height="25.9" fill="#3c3c3c"/>
<rect x="407" y="251.7" width="1" height="63.0" fill="#333"/>
<rect x="406" y="263.5" width="3" height="46.3" fill="#3c3c3c"/>
<rect x="408" y="277.6" width="1" height="43.8" fill="#333"/>
<rect x="407.5" y="277.6" width="2" height="23.5" fill="#fff" stroke="#333" stroke-width="1"/>
<rect x="410" y="284.3" width="1" height="32.3" fill="#333"/>
<rect x="409" y="287.4" width="3" height="25.3" fill="#3c3c3c"/>
<rect x="411" y="284.3" width="1" height="30.1" fill="#333"/>
<rect x="410.5" y="293.1" width="2" height="18.1" fill="#fff" stroke="#333" stroke-width="1"/>
<rect x="413" y="278.6" width="1" height="37.3" fill="#333"/>
<rect x="412.5" y="278.6" width="2" height="28.8" fill="#fff" stroke="#333" stroke-width="1"/>
<rect x="414" y="275.7" width="1" height="35.5" fill="#333"/>
<rect x="413" y="281.0" width="3" height="23.9" fill="#3c3c3c"/>
<rect x="416" y="266.3" width="1" height="37.3" fill="#333"/>
<rect x="415.5" y="274.2" width="2" height="29.4" fill="#fff" stroke="#333" stroke-width="1"/>
<rect x="417" y="269.6" width="1" height="28.1" fill="#333"/>
<rect x="416.5" y="271.7" width="2" height="20.1" fill="#fff" stroke="#333" stroke-width="1"/>
<rect x="419" y="281.1" width="1" height="24.4" fill="#333"/>
<rect x="418" y="281.1" width="3" height="21.9" fill="#3c3c3c"/>
<rect x="420" y="296.8" width="1" height="16.2" fill="#333"/>
<rect x="419" y="298.5" width="3" height="14.4" fill="#3c3c3c"/>
<rect x="421" y="305.5" width="1" height="19.9" fill="#333"/>
<rect x="420" y="307.5" width="3" height="13.5" fill="#3c3c3c"/>
<rect x="423" y="308.3" width="1" height="24.6" fill="#333"/>
<rect x="422.5" y="309.4" width="2" height="16.9" fill="#fff" stroke="#333" stroke-width="1"/>
<rect x="424" y="310.0" width="1" height="40.4" fill="#333"/>
<rect x="423" y="310.0" width="3" height="19.7" fill="#3c3c3c"/>
<rect x="426" y="306.4" width="1" height="74.5" fill="#333"/>
<rect x="425" y="306.4" width="3" height="40.6" fill="#3c3c3c"/>
<rect x="427" y="336.0" width="1" height="101.0" fill="#333"/>
<rect x="426" y="340.0" width="3" height="58.0" fill="#3c3c3c"/>
<rect x="429" y="371.6" width="1" height="50.0" fill="#333"/>
<rect x="428" y="371.6" width="3" height="40.6" fill="#3c3c3c"/>
<rect x="430" y="377.4" width="1" height="22.1" fill="#333"/>
<rect x="429.5" y="383.5" width="2" height="15.9" fill="#fff" stroke="#333" stroke-width="1"/>
<rect x="432" y="364.3" width="1" height="26.3" fill="#333"/>
<rect x="431.5" y="370.0" width="2" height="20.6" fill="#fff" stroke="#333" stroke-width="1"/>
<rect x="433" y="345.0" width="1" height="35.6" fill="#333"/>
<rect x="432.5" y="352.0" width="2" height="27.4" fill="#fff" stroke="#333" stroke-width="1"/>
<rect x="435" y="338.0" width="1" height="35.3" fill="#333"/>
<rect x="434" y="344.8" width="3" height="16.1" fill="#3c3c3c"/>
<rect x="436" y="344.1" width="1" height="23.5" fill="#333"/>
<rect x="435" y="350.0" width="3" height="15.1" fill="#3c3c3c"/>
<rect x="438" y="345.6" width="1" height="27.6" fill="#333"/>
<rect x="437" y="354.8" width="3" height="18.4" fill="#3c3c3c"/>
<rect x="439" y="343.3" width="1" height="31.0" fill="#333"/>
<rect x="438.5" y="350.6" width="2" height="23.7" fill="#fff" stroke="#333" stroke-width="1"/>
<rect x="441" y="343.7" width="1" height="32.3" fill="#333"/>
<rect x="440.5" y="343.7" width="2" height="25.1" fill="#fff" stroke="#333" stroke-width="1"/>
<rect x="442" y="351.0" width="1" height="23.9" fill="#333"/>
<rect x="441" y="351.0" width="3" height="12.5" fill="#3c3c3c"/>
<rect x="443" y="350.9" width="1" height="17.4" fill="#333"/>
<rect x="442" y="351.0" width="3" height="11.2" fill="#3c3c3c"/>
<rect x="445" y="350.5" width="1" height="42.2" fill="#333"/>
<rect x="444" y="350.5" width="3" height="33.1" fill="#3c3c3c"/>
<rect x="446" y="361.4" width="1" height="66.2" fill="#333"/>
<rect x="445" y="361.4" width="3" height="46.0" fill="#3c3c3c"/>
<rect x="448" y="397.4" width="1" height="28.3" fill="#333"/>
<rect x="447" y="397.4" width="3" height="19.5" fill="#3c3c3c"/>
<rect x="449" y="415.7" width="1" height="24.8" fill="#333"/>
<rect x="448" y="415.7" width="3" height="14.9" fill="#3c3c3c"/>
<rect x="451" y="420.1" width="1" height="29.3" fill="#333"/>
<rect x="450" y="425.6" width="3" height="17.7" fill="#3c3c3c"/>
<rect x="452" y="419.0" width="1" height="37.1" fill="#333"/>
<rect x="451" y="432.9" width="3" height="23.2" fill="#3c3c3c"/>
<rect x="454" y="438.5" width="1" height="25.6" fill="#333"/>
<rect x="453" y="438.5" width="3" height="20.8" fill="#3c3c3c"/>
<rect x="455" y="450.3" width="1" height="33.9" fill="#333"/>
<rect x="454" y="450.3" width="3" height="17.7" fill="#3c3c3c"/>
<rect x="457" y="460.8" width="1" height="34.2" fill="#333"/>
<rect x="456" y="460.8" width="3" height="24.6" fill="#3c3c3c"/>
<rect x="458" y="464.0" width="1" height="27.4" fill="#333"/>
<rect x="457" y="466.2" width="3" height="20.8" fill="#3c3c3c"/>
<rect x="460" y="464.4" width="1" height="13.7" fill="#333"/>
<rect x="459.5" y="468.0" width="2" height="9.9" fill="#fff" stroke="#333" stroke-width="1"/>
<rect x="461" y="455.0" width="1" height="20.0" fill="#333"/>
<rect x="460.5" y="459.5" width="2" height="11.3" fill="#fff" stroke="#333" stroke-width="1"/>
<rect x="463" y="454.7" width="1" height="22.4" fill="#333"/>
<rect x="462.5" y="454.7" width="2" height="13.0" fill="#fff" stroke="#333" stroke-width="1"/>
<rect x="464" y="461.3" width="1" height="18.1" fill="#333"/>
<rect x="463" y="461.3" width="3" height="18.1" fill="#3c3c3c"/>
<rect x="466" y="468.6" width="1" height="29.5" fill="#333"/>
<rect x="465" y="475.1" width="3" height="18.2" fill="#3c3c3c"/>
<rect x="467" y="466.5" width="1" height="36.5" fill="#333"/>
<rect x="466.5" y="472.2" width="2" height="21.4" fill="#fff" stroke="#333" stroke-width="1"/>
<rect x="468" y="465.5" width="1" height="33.1" fill="#333"/>
<rect x="467" y="471.6" width="3" height="25.3" fill="#3c3c3c"/>
<rect x="470" y="476.5" width="1" height="20.9" fill="#333"/>
<rect x="469.5" y="478.6" width="2" height="16.9" fill="#fff" stroke="#333" stroke-width="1"/>
<rect x="471" y="503.2" width="1" height="38.1" fill="#333"/>
<rect x="470" y="503.2" width="3" height="24.8" fill="#3c3c3c"/>
<rect x="473" y="519.0" width="1" height="47.0" fill="#333"/>
<rect x="472" y="522.0" width="3" height="30.0" fill="#3c3c3c"/>
<rect x="474" y="515.0" width="1" height="38.9" fill="#333"/>
<rect x="473.5" y="530.2" width="2" height="23.7" fill="#fff" stroke="#333" stroke-width="1"/>
<rect x="476" y="508.7" width="1" height="29.2" fill="#333"/>
<rect x="475.5" y="513.7" width="2" height="24.2" fill="#fff" stroke="#333" stroke-width="1"/>
<rect x="477" y="490.8" width="1" height="29.4" fill="#333"/>
<rect x="476.5" y="500.7" width="2" height="19.5" fill="#fff" stroke="#333" stroke-width="1"/>
<rect x="479" y="471.3" width="1" height="34.2" fill="#333"/>
<rect x="478.5" y="477.6" width="2" height="25.2" fill="#fff" stroke="#333" stroke-width="1"/>
<rect x="480" y="453.4" width="1" height="30.1" fill="#333"/>
<rect x="479" y="469.5" width="3" height="13.9" fill="#3c3c3c"/>
<rect x="482" y="443.2" width="1" height="27.1" fill="#333"/>
<rect x="481.5" y="449.2" width="2" height="21.1" fill="#fff" stroke="#333" stroke-width="1"/>
<rect x="483" y="441.1" width="1" height="28.1" fill="#333"/>
<rect x="482.5" y="448.8" width="2" height="20.4" fill="#fff" stroke="#333" stroke-width="1"/>
<rect x="485" y="438.1" width="1" height="35.1" fill="#333"/>
<rect x="484" y="444.4" width="3" height="23.7" fill="#3c3c3c"/>
<rect x="486" y="435.4" width="1" height="30.2" fill="#333"/>
<rect x="485.5" y="448.4" width="2" height="16.0" fill="#fff" stroke="#333" stroke-width="1"/>
<rect x="488" y="439.8" width="1" height="23.3" fill="#333"/>
<rect x="487.5" y="444.8" width="2" height="13.8" fill="#fff" stroke="#333" stroke-width="1"/>
<rect x="489" y="447.7" width="1" height="16.3" fill="#333"/>
<rect x="488" y="447.7" width="3" height="11.3" fill="#3c3c3c"/>
<rect x="491" y="443.0" width="1" height="15.7" fill="#333"/>
<rect x="490.5" y="444.3" width="2" height="12.5" fill="#fff" stroke="#333" stroke-width="1"/>
<rect x="492" y="409.6" width="1" height="33.7" fill="#333"/>
<rect x="491.5" y="423.5" width="2" height="19.8" fill="#fff" stroke="#333" stroke-width="1"/>
<rect x="493" y="399.6" width="1" height="20.3" fill="#333"/>
<rect x="492.5" y="403.4" width="2" height="16.5" fill="#fff" stroke="#333" stroke-width="1"/>
<rect x="495" y="390.7" width="1" height="17.1" fill="#333"/>
<rect x="494.5" y="394.4" width="2" height="13.5" fill="#fff" stroke="#333" stroke-width="1"/>
<rect x="496" y="393.3" width="1" height="15.6" fill="#333"/>
<rect x="495" y="395.5" width="3" height="9.6" fill="#3c3c3c"/>
<rect x="498" y="413.9" width="1" height="13.4" fill="#333"/>
<rect x="497" y="413.9" width="3" height="10.5" fill="#3c3c3c"/>
<rect x="499" y="417.3" width="1" height="18.0" fill="#333"/>
<rect x="498" y="417.3" width="3" height="9.7" fill="#3c3c3c"/>
<rect x="501" y="419.2" width="1" height="22.0" fill="#333"/>
<rect x="500.5" y="419.2" width="2" height="15.4" fill="#fff" stroke="#333" stroke-width="1"/>
<rect x="502" y="421.8" width="1" height="21.5" fill="#333"/>
<rect x="501" y="421.8" width="3" height="15.3" fill="#3c3c3c"/>
<rect x="504" y="426.2" width="1" height="19.1" fill="#333"/>
<rect x="503" y="426.2" width="3" height="18.0" fill="#3c3c3c"/>
<rect x="505" y="428.3" width="1" height="17.5" fill="#333"/>
<rect x="504" y="432.8" width="3" height="10.0" fill="#3c3c3c"/>
<rect x="507" y="423.7" width="1" height="19.3" fill="#333"/>
<rect x="506.5" y="424.8" width="2" height="15.9" fill="#fff" stroke="#333" stroke-width="1"/>
<rect x="508" y="417.7" width="1" height="24.8" fill="#333"/>
<rect x="507.5" y="417.7" width="2" height="13.3" fill="#fff" stroke="#333" stroke-width="1"/>
<rect x="510" y="412.4" width="1" height="24.6" fill="#333"/>
<rect x="509" y="418.8" width="3" height="18.2" fill="#3c3c3c"/>
<rect x="511" y="402.2" width="1" height="19.2" fill="#333"/>
<rect x="510.5" y="405.9" width="2" height="15.6" fill="#fff" stroke="#333" stroke-width="1"/>
<rect x="513" y="384.6" width="1" height="21.6" fill="#333"/>
<rect x="512.5" y="391.2" width="2" height="15.1" fill="#fff" stroke="#333" stroke-width="1"/>
<rect x="514" y="367.8" width="1" height="31.0" fill="#333"/>
<rect x="513.5" y="377.9" width="2" height="20.0" fill="#fff" stroke="#333" stroke-width="1"/>
<rect x="515" y="351.7" width="1" height="28.8" fill="#333"/>
<rect x="514.5" y="356.5" width="2" height="21.3" fill="#fff" stroke="#333" stroke-width="1"/>
<rect x="517" y="347.0" width="1" height="22.3" fill="#333"/>
<rect x="516" y="350.0" width="3" height="15.8" fill="#3c3c3c"/>
<rect x="518" y="351.1" width="1" height="20.2" fill="#333"/>
<rect x="517" y="352.9" width="3" height="14.9" fill="#3c3c3c"/>
<rect x="520" y="357.8" width="1" height="21.6" fill="#333"/>
<rect x="519" y="361.4" width="3" height="14.1" fill="#3c3c3c"/>
<rect x="521" y="362.4" width="1" height="18.3" fill="#333"/>
<rect x="520.5" y="367.2" width="2" height="13.5" fill="#fff" stroke="#333" stroke-width="1"/>
<rect x="523" y="362.3" width="1" height="18.5" fill="#333"/>
<rect x="522" y="364.5" width="3" height="16.2" fill="#3c3c3c"/>
<rect x="524" y="359.4" width="1" height="25.2" fill="#333"/>
<rect x="523.5" y="361.3" width="2" height="18.9" fill="#fff" stroke="#333" stroke-width="1"/>
<rect x="526" y="356.5" width="1" height="16.4" fill="#333"/>
<rect x="525.5" y="361.1" width="2" height="11.8" fill="#fff" stroke="#333" stroke-width="1"/>
<rect x="527" y="355.1" width="1" height="13.4" fill="#333"/>
<rect x="526.5" y="358.0" width="2" height="10.1" fill="#fff" stroke="#333" stroke-width="1"/>
<rect x="529" y="350.5" width="1" height="16.7" fill="#333"/>
<rect x="528.5" y="355.4" width="2" height="10.5" fill="#fff" stroke="#333" stroke-width="1"/>
<rect x="530" y="344.9" width="1" height="24.6" fill="#333"/>
<rect x="529" y="354.4" width="3" height="13.9" fill="#3c3c3c"/>
<rect x="532" y="335.5" width="1" height="20.7" fill="#333"/>
<rect x="531.5" y="342.2" width="2" height="14.0" fill="#fff" stroke="#333" stroke-width="1"/>
<rect x="533" y="335.2" width="1" height="17.8" fill="#333"/>
<rect x="532.5" y="341.8" width="2" height="8.3" fill="#fff" stroke="#333" stroke-width="1"/>
<rect x="535" y="337.6" width="1" height="13.3" fill="#333"/>
<rect x="534.5" y="337.6" width="2" height="12.6" fill="#fff" stroke="#333" stroke-width="1"/>
<rect x="536" y="339.9" width="1" height="16.9" fill="#333"/>
<rect x="535" y="339.9" width="3" height="11.6" fill="#3c3c3c"/>
<rect x="538" y="349.5" width="1" height="28.0" fill="#333"/>
<rect x="537" y="349.5" width="3" height="17.7" fill="#3c3c3c"/>
<rect x="539" y="357.2" width="1" height="22.2" fill="#333"/>
<rect x="538.5" y="357.2" width="2" height="13.2" fill="#fff" stroke="#333" stroke-width="1"/>
<rect x="540" y="352.8" width="1" height="24.2" fill="#333"/>
<rect x="539" y="356.8" width="3" height="17.6" fill="#3c3c3c"/>
<rect x="542" y="346.6" width="1" height="25.0" fill="#333"/>
<rect x="541.5" y="355.4" width="2" height="15.5" fill="#fff" stroke="#333" stroke-width="1"/>
<rect x="543" y="341.6" width="1" height="20.6" fill="#333"/>
<rect x="542.5" y="346.2" width="2" height="16.0" fill="#fff" stroke="#333" stroke-width="1"/>
<rect x="545" y="339.1" width="1" height="18.1" fill="#333"/>
<rect x="544.5" y="340.0" width="2" height="14.1" fill="#fff" stroke="#333" stroke-width="1"/>
<rect x="546" y="340.7" width="1" height="21.2" fill="#333"/>
<rect x="545" y="340.7" width="3" height="15.4" fill="#3c3c3c"/>
<rect x="548" y="352.3" width="1" height="24.5" fill="#333"/>
<rect x="547" y="352.3" width="3" height="15.2" fill="#3c3c3c"/>
<rect x="549" y="368.2" width="1" height="23.0" fill="#333"/>
<rect x="548" y="368.2" width="3" height="10.7" fill="#3c3c3c"/>
<rect x="551" y="380.0" width="1" height="31.6" fill="#333"/>
<rect x="550" y="380.0" width="3" height="26.9" fill="#3c3c3c"/>
<rect x="552" y="387.1" width="1" height="23.0" fill="#333"/>
<rect x="551.5" y="397.4" width="2" height="12.8" fill="#fff" stroke="#333" stroke-width="1"/>
<rect x="554" y="390.7" width="1" height="16.3" fill="#333"/>
<rect x="553.5" y="393.7" width="2" height="13.3" fill="#fff" stroke="#333" stroke-width="1"/>
<rect x="555" y="382.5" width="1" height="22.6" fill="#333"/>
<rect x="554.5" y="389.3" width="2" height="15.8" fill="#fff" stroke="#333" stroke-width="1"/>
<rect x="557" y="351.8" width="1" height="35.1" fill="#333"/>
<rect x="556.5" y="362.3" width="2" height="24.6" fill="#fff" stroke="#333" stroke-width="1"/>
<rect x="558" y="349.1" width="1" height="14.4" fill="#333"/>
<rect x="557.5" y="352.9" width="2" height="10.6" fill="#fff" stroke="#333" stroke-width="1"/>
<rect x="560" y="336.3" width="1" height="18.3" fill="#333"/>
<rect x="559.5" y="344.3" width="2" height="10.3" fill="#fff" stroke="#333" stroke-width="1"/>
<rect x="561" y="327.4" width="1" height="16.3" fill="#333"/>
<rect x="560.5" y="333.1" width="2" height="10.6" fill="#fff" stroke="#333" stroke-width="1"/>
<rect x="563" y="324.2" width="1" height="10.1" fill="#333"/>
<rect x="562.5" y="327.6" width="2" height="6.6" fill="#fff" stroke="#333" stroke-width="1"/>
<rect x="564" y="318.2" width="1" height="10.9" fill="#333"/>
<rect x="563.5" y="319.7" width="2" height="9.4" fill="#fff" stroke="#333" stroke-width="1"/>
<rect x="565" y="305.8" width="1" height="12.4" fill="#333"/>
<rect x="564.5" y="308.7" width="2" height="9.5" fill="#fff" stroke="#333" stroke-width="1"/>
<rect x="567" y="299.3" width="1" height="12.0" fill="#333"/>
<rect x="566.5" y="300.5" width="2" height="10.8" fill="#fff" stroke="#333" stroke-width="1"/>
<rect x="568" y="294.9" width="1" height="13.9" fill="#333"/>
<rect x="567.5" y="298.0" width="2" height="10.9" fill="#fff" stroke="#333" stroke-width="1"/>
<rect x="570" y="290.5" width="1" height="23.1" fill="#333"/>
<rect x="569" y="296.6" width="3" height="16.9" fill="#3c3c3c"/>
<rect x="571" y="291.3" width="1" height="17.4" fill="#333"/>
<rect x="570.5" y="296.9" width="2" height="11.8" fill="#fff" stroke="#333" stroke-width="1"/>
<rect x="573" y="306.7" width="1" height="19.8" fill="#333"/>
<rect x="572" y="306.7" width="3" height="14.7" fill="#3c3c3c"/>
<rect x="574" y="331.1" width="1" height="17.2" fill="#333"/>
<rect x="573" y="331.1" width="3" height="13.8" fill="#3c3c3c"/>
<rect x="576" y="345.3" width="1" height="16.0" fill="#333"/>
<rect x="575" y="345.3" width="3" height="12.6" fill="#3c3c3c"/>
<rect x="577" y="352.8" width="1" height="31.2" fill="#333"/>
<rect x="576" y="352.8" width="3" height="20.6" fill="#3c3c3c"/>
<rect x="579" y="366.8" width="1" height="17.2" fill="#333"/>
<rect x="578" y="366.8" width="3" height="12.3" fill="#3c3c3c"/>
<rect x="580" y="367.7" width="1" height="15.1" fill="#333"/>
<rect x="579" y="370.1" width="3" height="10.9" fill="#3c3c3c"/>
<rect x="582" y="359.7" width="1" height="21.1" fill="#333"/>
<rect x="581.5" y="364.8" width="2" height="16.0" fill="#fff" stroke="#333" stroke-width="1"/>
<rect x="583" y="345.2" width="1" height="32.4" fill="#333"/>
<rect x="582.5" y="360.9" width="2" height="16.7" fill="#fff" stroke="#333" stroke-width="1"/>
<rect x="585" y="350.4" width="1" height="20.7" fill="#333"/>
<rect x="584" y="357.8" width="3" height="11.9" fill="#3c3c3c"/>
<rect x="586" y="351.0" width="1" height="15.3" fill="#333"/>
<rect x="585.5" y="357.5" width="2" height="8.3" fill="#fff" stroke="#333" stroke-width="1"/>
<rect x="587" y="351.9" width="1" height="17.4" fill="#333"/>
<rect x="586.5" y="351.9" width="2" height="11.7" fill="#fff" stroke="#333" stroke-width="1"/>
<rect x="589" y="357.8" width="1" height="21.8" fill="#333"/>
<rect x="588" y="357.8" width="3" height="13.8" fill="#3c3c3c"/>
<rect x="590" y="378.8" width="1" height="21.1" fill="#333"/>
<rect x="589" y="378.8" width="3" height="18.3" fill="#3c3c3c"/>
<rect x="592" y="375.4" width="1" height="19.2" fill="#333"/>
<rect x="591.5" y="380.7" width="2" height="13.8" fill="#fff" stroke="#333" stroke-width="1"/>
<rect x="593" y="362.1" width="1" height="18.3" fill="#333"/>
<rect x="592.5" y="366.0" width="2" height="14.4" fill="#fff" stroke="#333" stroke-width="1"/>
<rect x="595" y="350.5" width="1" height="13.6" fill="#333"/>
<rect x="594.5" y="354.2" width="2" height="9.8" fill="#fff" stroke="#333" stroke-width="1"/>
<rect x="596" y="314.2" width="1" height="35.4" fill="#333"/>
<rect x="595.5" y="322.9" width="2" height="26.7" fill="#fff" stroke="#333" stroke-width="1"/>
<rect x="598" y="289.4" width="1" height="44.6" fill="#333"/>
<rect x="597.5" y="297.2" width="2" height="36.3" fill="#fff" stroke="#333" stroke-width="1"/>
<rect x="599" y="293.7" width="1" height="19.9" fill="#333"/>
<rect x="598" y="297.2" width="3" height="16.5" fill="#3c3c3c"/>
<rect x="601" y="285.6" width="1" height="27.3" fill="#333"/>
<rect x="600.5" y="296.9" width="2" height="16.0" fill="#fff" stroke="#333" stroke-width="1"/>
<rect x="602" y="292.8" width="1" height="34.4" fill="#333"/>
<rect x="601" y="298.7" width="3" height="27.5" fill="#3c3c3c"/>
<rect x="604" y="307.8" width="1" height="28.0" fill="#333"/>
<rect x="603.5" y="307.8" width="2" height="19.4" fill="#fff" stroke="#333" stroke-width="1"/>
<rect x="605" y="310.9" width="1" height="20.3" fill="#333"/>
<rect x="604" y="310.9" width="3" height="15.9" fill="#3c3c3c"/>
<rect x="607" y="304.5" width="1" height="16.5" fill="#333"/>
<rect x="606.5" y="306.3" width="2" height="14.6" fill="#fff" stroke="#333" stroke-width="1"/>
<rect x="608" y="290.0" width="1" height="18.5" fill="#333"/>
<rect x="607.5" y="295.3" width="2" height="13.2" fill="#fff" stroke="#333" stroke-width="1"/>
<rect x="610" y="281.8" width="1" height="18.7" fill="#333"/>
<rect x="609.5" y="287.7" width="2" height="12.8" fill="#fff" stroke="#333" stroke-width="1"/>
<rect x="611" y="284.0" width="1" height="17.3" fill="#333"/>
<rect x="610" y="284.1" width="3" height="9.0" fill="#3c3c3c"/>
<rect x="612" y="294.9" width="1" height="14.9" fill="#333"/>
<rect x="611" y="294.9" width="3" height="13.9" fill="#3c3c3c"/>
<rect x="614" y="299.5" width="1" height="26.3" fill="#333"/>
<rect x="613" y="299.5" width="3" height="20.8" fill="#3c3c3c"/>
<rect x="615" y="302.9" width="1" height="31.5" fill="#333"/>
<rect x="614" y="308.6" width="3" height="25.8" fill="#3c3c3c"/>
<rect x="617" y="299.9" width="1" height="28.6" fill="#333"/>
<rect x="616.5" y="310.4" width="2" height="18.2" fill="#fff" stroke="#333" stroke-width="1"/>
<rect x="618" y="289.0" width="1" height="21.7" fill="#333"/>
<rect x="617.5" y="292.6" width="2" height="18.0" fill="#fff" stroke="#333" stroke-width="1"/>
<rect x="620" y="275.6" width="1" height="19.2" fill="#333"/>
<rect x="619.5" y="284.3" width="2" height="10.4" fill="#fff" stroke="#333" stroke-width="1"/>
<rect x="621" y="262.6" width="1" height="20.3" fill="#333"/>
<rect x="620.5" y="267.8" width="2" height="15.1" fill="#fff" stroke="#333" stroke-width="1"/>
<rect x="623" y="260.8" width="1" height="16.1" fill="#333"/>
<rect x="622.5" y="264.3" width="2" height="9.3" fill="#fff" stroke="#333" stroke-width="1"/>
<rect x="624" y="255.8" width="1" height="21.5" fill="#333"/>
<rect x="623" y="262.5" width="3" height="14.7" fill="#3c3c3c"/>
<rect x="626" y="252.0" width="1" height="28.7" fill="#333"/>
<rect x="625.5" y="259.5" width="2" height="15.5" fill="#fff" stroke="#333" stroke-width="1"/>
<rect x="627" y="249.7" width="1" height="35.3" fill="#333"/>
<rect x="626" y="256.3" width="3" height="28.8" fill="#3c3c3c"/>
<rect x="629" y="241.6" width="1" height="33.9" fill="#333"/>
<rect x="628.5" y="258.6" width="2" height="16.9" fill="#fff" stroke="#333" stroke-width="1"/>
<rect x="630" y="236.3" width="1" height="37.5" fill="#333"/>
<rect x="629.5" y="252.4" width="2" height="21.3" fill="#fff" stroke="#333" stroke-width="1"/>
<rect x="632" y="239.5" width="1" height="33.8" fill="#333"/>
<rect x="631" y="251.9" width="3" height="21.4" fill="#3c3c3c"/>
<rect x="633" y="245.6" width="1" height="36.6" fill="#333"/>
<rect x="632" y="260.4" width="3" height="19.3" fill="#3c3c3c"/>
<rect x="634" y="259.2" width="1" height="35.8" fill="#333"/>
<rect x="633.5" y="259.2" width="2" height="25.8" fill="#fff" stroke="#333" stroke-width="1"/>
<rect x="636" y="286.4" width="1" height="20.4" fill="#333"/>
<rect x="635" y="286.4" width="3" height="13.5" fill="#3c3c3c"/>
<rect x="637" y="288.9" width="1" height="30.5" fill="#333"/>
<rect x="636" y="288.9" width="3" height="20.3" fill="#3c3c3c"/>
<rect x="639" y="288.4" width="1" height="14.5" fill="#333"/>
<rect x="638.5" y="290.7" width="2" height="7.6" fill="#fff" stroke="#333" stroke-width="1"/>
<rect x="641" y="266.0" width="1" height="30.0" fill="#333"/>
<rect x="640" y="268.8" width="3" height="25.0" fill="#3c3c3c"/>
<rect x="642" y="269.0" width="1" height="20.2" fill="#333"/>
<rect x="641.5" y="271.8" width="2" height="17.4" fill="#fff" stroke="#333" stroke-width="1"/>
<rect x="643" y="267.7" width="1" height="31.3" fill="#333"/>
<rect x="642" y="270.0" width="3" height="23.8" fill="#3c3c3c"/>
<rect x="645" y="270.0" width="1" height="29.0" fill="#333"/>
<rect x="644.5" y="272.4" width="2" height="19.4" fill="#fff" stroke="#333" stroke-width="1"/>
<rect x="646" y="271.5" width="1" height="16.3" fill="#333"/>
<rect x="645" y="272.0" width="3" height="12.3" fill="#3c3c3c"/>
<rect x="648" y="272.9" width="1" height="15.5" fill="#333"/>
<rect x="647" y="277.8" width="3" height="9.6" fill="#3c3c3c"/>
<rect x="648" y="254.2" width="1" height="18.8" fill="#333"/>
<rect x="647.5" y="258.4" width="2" height="14.0" fill="#fff" stroke="#333" stroke-width="1"/>
<rect x="650" y="275.0" width="1" height="36.6" fill="#333"/>
<rect x="649" y="277.0" width="3" height="27.3" fill="#3c3c3c"/>
<rect x="652" y="266.8" width="1" height="25.4" fill="#333"/>
<rect x="651" y="266.8" width="3" height="12.4" fill="#3c3c3c"/>
<rect x="654" y="275.0" width="1" height="20.0" fill="#333"/>
<rect x="653" y="277.0" width="3" height="12.7" fill="#3c3c3c"/>
<rect x="656" y="281.0" width="1" height="17.0" fill="#333"/>
<rect x="655" y="283.4" width="3" height="7.3" fill="#3c3c3c"/>
<rect x="657" y="276.7" width="1" height="19.6" fill="#333"/>
<rect x="656.5" y="282.6" width="2" height="13.8" fill="#fff" stroke="#333" stroke-width="1"/>
<rect x="658" y="267.2" width="1" height="21.4" fill="#333"/>
<rect x="657.5" y="268.3" width="2" height="17.7" fill="#fff" stroke="#333" stroke-width="1"/>
</g>
<g shape-rendering="crispEdges">
<rect x="59" y="75" width="15" height="2" fill="#00008b"/>
<rect x="203" y="75" width="223.60000000000002" height="2" fill="#00008b"/>
<rect x="458" y="75" width="204" height="2" fill="#00008b"/>
<line x1="59" y1="118.5" x2="279.9" y2="118.5" stroke="#00008b" stroke-width="1" stroke-dasharray="6 2"/>
<line x1="317.2" y1="118.5" x2="662" y2="118.5" stroke="#00008b" stroke-width="1" stroke-dasharray="6 2"/>
<line x1="87" y1="176.5" x2="662" y2="176.5" stroke="#00008b" stroke-width="1" stroke-dasharray="6 2"/>
<line x1="87" y1="218.5" x2="662" y2="218.5" stroke="#00008b" stroke-width="1" stroke-dasharray="6 2"/>
<rect x="59" y="234" width="521.6" height="2" fill="#00008b"/>
<rect x="606.1" y="234" width="55.89999999999998" height="2" fill="#00008b"/>
<line x1="59" y1="290.5" x2="535.7" y2="290.5" stroke="#00008b" stroke-width="1" stroke-dasharray="6 2"/>
<line x1="574.8" y1="290.5" x2="662" y2="290.5" stroke="#00008b" stroke-width="1" stroke-dasharray="6 2"/>
<line x1="59" y1="324.0" x2="203" y2="324.0" stroke="#00008b" stroke-width="2" stroke-dasharray="5 3"/>
<line x1="234" y1="324.0" x2="662" y2="324.0" stroke="#00008b" stroke-width="2" stroke-dasharray="5 3"/>
<line x1="80.9" y1="388.5" x2="662" y2="388.5" stroke="#00008b" stroke-width="1" stroke-dasharray="6 2"/>
<line x1="80.9" y1="398.5" x2="662" y2="398.5" stroke="#00008b" stroke-width="1" stroke-dasharray="6 2"/>
<line x1="80.9" y1="408.0" x2="662" y2="408.0" stroke="#00008b" stroke-width="2" stroke-dasharray="5 3"/>
<rect x="59" y="419" width="484.5" height="2" fill="#00008b"/>
<rect x="575.3" y="419" width="86.70000000000005" height="2" fill="#00008b"/>
<line x1="59" y1="427.5" x2="151.1" y2="427.5" stroke="#00008b" stroke-width="1" stroke-dasharray="6 2"/>
<line x1="176.2" y1="427.5" x2="662" y2="427.5" stroke="#00008b" stroke-width="1" stroke-dasharray="6 2"/>
<line x1="59" y1="451.0" x2="302.3" y2="451.0" stroke="#00008b" stroke-width="2" stroke-dasharray="5 3"/>
<line x1="333" y1="451.0" x2="662" y2="451.0" stroke="#00008b" stroke-width="2" stroke-dasharray="5 3"/>
<rect x="59" y="458" width="473.70000000000005" height="2" fill="#00008b"/>
<rect x="564.1" y="458" width="97.89999999999998" height="2" fill="#00008b"/>
<line x1="59" y1="465.0" x2="311.2" y2="465.0" stroke="#00008b" stroke-width="2" stroke-dasharray="5 3"/>
<line x1="328" y1="465.0" x2="662" y2="465.0" stroke="#00008b" stroke-width="2" stroke-dasharray="5 3"/>
<line x1="87" y1="479.5" x2="662" y2="479.5" stroke="#00008b" stroke-width="1" stroke-dasharray="6 2"/>
<line x1="87" y1="503.5" x2="662" y2="503.5" stroke="#00008b" stroke-width="1" stroke-dasharray="6 2"/>
<line x1="59" y1="542.5" x2="167.4" y2="542.5" stroke="#00008b" stroke-width="1" stroke-dasharray="6 2"/>
<line x1="191.8" y1="542.5" x2="662" y2="542.5" stroke="#00008b" stroke-width="1" stroke-dasharray="6 2"/>
<rect x="59" y="566" width="514.9" height="1" fill="#00008b"/>
<rect x="604.9" y="566" width="57.10000000000002" height="1" fill="#00008b"/>
<rect x="562" y="379" width="100" height="1" fill="#ff0000"/>
<line x1="562" y1="398" x2="662" y2="398" stroke="#ff0000" stroke-width="1.4" stroke-dasharray="6 2"/>
<line x1="58" y1="275.6" x2="662" y2="324.4" stroke="#00008b" stroke-width="1" stroke-dasharray="6 2"/>
<line x1="486" y1="471" x2="662" y2="309.5" stroke="#00008b" stroke-width="1" stroke-dasharray="5 3"/>
<line x1="58" y1="529.6" x2="511.6" y2="577" stroke="#ff0000" stroke-width="1"/>
</g>
<g shape-rendering="crispEdges"><rect x="663" y="139" width="5" height="1" fill="#404040"/>
<rect x="663" y="167" width="5" height="1" fill="#404040"/>
<rect x="663" y="196" width="5" height="1" fill="#404040"/>
<rect x="663" y="225" width="5" height="1" fill="#404040"/>
<rect x="663" y="254" width="5" height="1" fill="#404040"/>
<rect x="663" y="283" width="5" height="1" fill="#404040"/>
<rect x="663" y="312" width="5" height="1" fill="#404040"/>
<rect x="663" y="340" width="5" height="1" fill="#404040"/>
<rect x="663" y="369" width="5" height="1" fill="#404040"/>
<rect x="663" y="398" width="5" height="1" fill="#404040"/>
<rect x="663" y="427" width="5" height="1" fill="#404040"/>
<rect x="663" y="456" width="5" height="1" fill="#404040"/>
<rect x="663" y="485" width="5" height="1" fill="#404040"/>
<rect x="663" y="513" width="5" height="1" fill="#404040"/>
<rect x="663" y="542" width="5" height="1" fill="#404040"/>
<rect x="663" y="571" width="5" height="1" fill="#404040"/>
<rect x="106" y="580" width="1" height="3" fill="#333"/>
<rect x="183" y="580" width="1" height="3" fill="#333"/>
<rect x="260" y="580" width="1" height="3" fill="#333"/>
<rect x="336" y="580" width="1" height="3" fill="#333"/>
<rect x="415" y="580" width="1" height="3" fill="#333"/>
<rect x="492" y="580" width="1" height="3" fill="#333"/>
<rect x="568" y="580" width="1" height="3" fill="#333"/>
<rect x="645" y="580" width="1" height="3" fill="#333"/>
<rect x="260" y="596" width="1" height="13" fill="#333"/>
<rect x="141" y="576" width="4" height="1" fill="#00008b"/><rect x="151" y="576" width="3" height="1" fill="#00008b"/><rect x="157" y="576" width="4" height="1" fill="#00008b"/></g>
<g shape-rendering="crispEdges"><rect x="74" y="70" width="129" height="28" fill="#fff"/><rect x="203" y="84" width="198" height="14" fill="#fff"/><rect x="213" y="100" width="42" height="13" fill="#fff"/></g>
<text x="54.5" y="59.6" font-size="11" font-weight="bold" fill="#000" textLength="361.3" lengthAdjust="spacingAndGlyphs">Weekly ENEI.MI; IT10YT=RR; DE10YT=RR; .SX6E; .STOXXE; .FTMIB</text>
<text x="555.6" y="59.8" font-size="11" fill="#222" textLength="149.7" lengthAdjust="spacingAndGlyphs">28/05/2017 - 23/03/2025 (MIL)</text>
<text x="74.6" y="81.1" font-size="11" fill="#222" textLength="127.2" lengthAdjust="spacingAndGlyphs">Cndl; ENEI.MI; Trade Price</text>
<text x="74.6" y="94.8" font-size="11" fill="#222" textLength="223.2" lengthAdjust="spacingAndGlyphs">28/02/2025; 6,8720; 7,0640; 6,8560; 7,0480;</text>
<text x="302.6" y="94.8" font-size="11" fill="#0000ff" textLength="97.3" lengthAdjust="spacingAndGlyphs">+0,0610; (+0,87%)</text>
<text x="215.3" y="109.8" font-size="11" fill="#ff0000" textLength="38.2" lengthAdjust="spacingAndGlyphs">161,8%</text>
<text x="430.6" y="80.6" font-size="11" fill="#00008b" textLength="22.3" lengthAdjust="spacingAndGlyphs">9,05</text>
<text x="283.6" y="122.9" font-size="11" fill="#00008b" textLength="27.5" lengthAdjust="spacingAndGlyphs">8,609</text>
<text x="59.6" y="181.2" font-size="11" fill="#00008b" textLength="22.2" lengthAdjust="spacingAndGlyphs">8,01</text>
<text x="59.6" y="223" font-size="11" fill="#00008b" textLength="22.2" lengthAdjust="spacingAndGlyphs">7,57</text>
<text x="584.8" y="240.0" font-size="11" fill="#00008b" textLength="16.3" lengthAdjust="spacingAndGlyphs">7,4</text>
<text x="541.2" y="294.9" font-size="11" fill="#00008b" textLength="29.2" lengthAdjust="spacingAndGlyphs">6,824</text>
<text x="207.3" y="328.9" font-size="11" fill="#00008b" textLength="22.7" lengthAdjust="spacingAndGlyphs">6,47</text>
<text x="60.2" y="392.7" font-size="11" fill="#00008b" textLength="15.1" lengthAdjust="spacingAndGlyphs">5,8</text>
<text x="60.2" y="402.8" font-size="11" fill="#00008b" textLength="15.1" lengthAdjust="spacingAndGlyphs">5,7</text>
<text x="60.2" y="412.3" font-size="11" fill="#00008b" textLength="15.1" lengthAdjust="spacingAndGlyphs">5,6</text>
<text x="548.5" y="424.7" font-size="11" fill="#00008b" textLength="21.4" lengthAdjust="spacingAndGlyphs">5,47</text>
<text x="155.2" y="431.9" font-size="11" fill="#00008b" textLength="15.6" lengthAdjust="spacingAndGlyphs">5,4</text>
<text x="306.1" y="455.9" font-size="11" fill="#00008b" textLength="21.8" lengthAdjust="spacingAndGlyphs">5,15</text>
<text x="537" y="463.4" font-size="11" fill="#00008b" textLength="21.5" lengthAdjust="spacingAndGlyphs">5,07</text>
<text x="317.2" y="469.8" font-size="11" fill="#00008b" textLength="5.8" lengthAdjust="spacingAndGlyphs">5</text>
<text x="59.6" y="484.0" font-size="11" fill="#00008b" textLength="22.2" lengthAdjust="spacingAndGlyphs">4,86</text>
<text x="59.6" y="508.0" font-size="11" fill="#00008b" textLength="22.2" lengthAdjust="spacingAndGlyphs">4,61</text>
<text x="171.1" y="546.8" font-size="11" fill="#00008b" textLength="15.9" lengthAdjust="spacingAndGlyphs">4,2</text>
<text x="578" y="570.6" font-size="11" fill="#00008b" textLength="21.5" lengthAdjust="spacingAndGlyphs">3,95</text>
<text x="434.5" y="383.9" font-size="11" fill="#ff0000" textLength="70.3" lengthAdjust="spacingAndGlyphs">50,0% 5,9007</text>
<text x="434.5" y="401.8" font-size="11" fill="#ff0000" textLength="70.3" lengthAdjust="spacingAndGlyphs">61,8% 5,7075</text>
<text x="667.8" y="93.9" font-size="11" font-weight="bold" fill="#404040" textLength="28.4" lengthAdjust="spacingAndGlyphs">Price</text>
<text x="667.8" y="108.8" font-size="11" font-weight="bold" fill="#404040" textLength="21.5" lengthAdjust="spacingAndGlyphs">EUR</text>
<text x="669.6" y="144" font-size="11" fill="#333" textLength="16.8" lengthAdjust="spacingAndGlyphs">8,4</text>
<text x="669.6" y="172" font-size="11" fill="#333" textLength="16.8" lengthAdjust="spacingAndGlyphs">8,1</text>
<text x="669.6" y="201" font-size="11" fill="#333" textLength="16.8" lengthAdjust="spacingAndGlyphs">7,8</text>
<text x="669.6" y="230" font-size="11" fill="#333" textLength="16.8" lengthAdjust="spacingAndGlyphs">7,5</text>
<text x="669.6" y="259" font-size="11" fill="#333" textLength="16.8" lengthAdjust="spacingAndGlyphs">7,2</text>
<text x="669.6" y="288" font-size="11" fill="#333" textLength="16.8" lengthAdjust="spacingAndGlyphs">6,9</text>
<text x="669.6" y="317" font-size="11" fill="#333" textLength="16.8" lengthAdjust="spacingAndGlyphs">6,6</text>
<text x="669.6" y="345" font-size="11" fill="#333" textLength="16.8" lengthAdjust="spacingAndGlyphs">6,3</text>
<text x="670.2" y="374" font-size="11" font-weight="bold" fill="#333">6</text>
<text x="669.6" y="403" font-size="11" fill="#333" textLength="16.8" lengthAdjust="spacingAndGlyphs">5,7</text>
<text x="669.6" y="432" font-size="11" fill="#333" textLength="16.8" lengthAdjust="spacingAndGlyphs">5,4</text>
<text x="669.6" y="461" font-size="11" fill="#333" textLength="16.8" lengthAdjust="spacingAndGlyphs">5,1</text>
<text x="669.6" y="490" font-size="11" fill="#333" textLength="16.8" lengthAdjust="spacingAndGlyphs">4,8</text>
<text x="669.6" y="518" font-size="11" fill="#333" textLength="16.8" lengthAdjust="spacingAndGlyphs">4,5</text>
<text x="669.6" y="547" font-size="11" fill="#333" textLength="16.8" lengthAdjust="spacingAndGlyphs">4,2</text>
<rect x="669.5" y="564.5" width="28" height="12" fill="none" stroke="#404040" stroke-width="1"/>
<text x="670.5" y="574.8" font-size="10.5" font-weight="bold" fill="#333" textLength="26.6" lengthAdjust="spacingAndGlyphs">Auto</text>
<text x="106.5" y="592.8" font-size="11" fill="#2a2a2a" text-anchor="middle">2018</text>
<text x="183.5" y="592.8" font-size="11" fill="#2a2a2a" text-anchor="middle">2019</text>
<text x="260.5" y="592.8" font-size="11" fill="#2a2a2a" text-anchor="middle">2020</text>
<text x="336.5" y="592.8" font-size="11" fill="#2a2a2a" text-anchor="middle">2021</text>
<text x="415.5" y="592.8" font-size="11" fill="#2a2a2a" text-anchor="middle">2022</text>
<text x="492.5" y="592.8" font-size="11" fill="#2a2a2a" text-anchor="middle">2023</text>
<text x="568.5" y="592.8" font-size="11" fill="#2a2a2a" text-anchor="middle">2024</text>
<text x="645.5" y="592.8" font-size="11" fill="#2a2a2a" text-anchor="middle">2025</text>
<text x="145.5" y="606.1" font-size="11" font-weight="bold" fill="#333" textLength="27.7" lengthAdjust="spacingAndGlyphs">2010</text>
<text x="447.2" y="606" font-size="11" font-weight="bold" fill="#333" textLength="28" lengthAdjust="spacingAndGlyphs">2020</text>
<polygon points="667,264.6 670.9,268.5 667,272.4 663.1,268.5" fill="#333"/>
<polygon points="656.9,300.6 662.6,306.4 659.3,306.4 659.3,315.6 654.6,315.6 654.6,306.4 651.2,306.4" fill="#0b7d0b"/>
<rect x="289" y="644" width="177" height="9" fill="#fff"/>
<circle cx="301.5" cy="638.9" r="3.95" fill="#012a5b"/>
<polygon points="313.0,635.1 319.9,635.1 308.9,661.8 307.6,661.8 304.3,654.6" fill="#012a5b"/>
<polygon points="324.9,635.1 331.8,635.1 320.8,661.8 319.5,661.8 316.2,654.6" fill="#012a5b"/>
<text x="338.8" y="662.2" font-size="36.5" fill="#012a5b" textLength="120.5" lengthAdjust="spacing" stroke="#012a5b" stroke-width="0.8">websim</text>
<!-- plot border -->
<rect x="58" y="66" width="1" height="512" fill="#8c8c8c"/>
<rect x="58" y="66" width="605" height="1" fill="#8c8c8c"/>
<rect x="662" y="66" width="1" height="512" fill="#808080"/>
<rect x="58" y="577" width="605" height="1" fill="#808080"/>
</svg>
</body></html>
